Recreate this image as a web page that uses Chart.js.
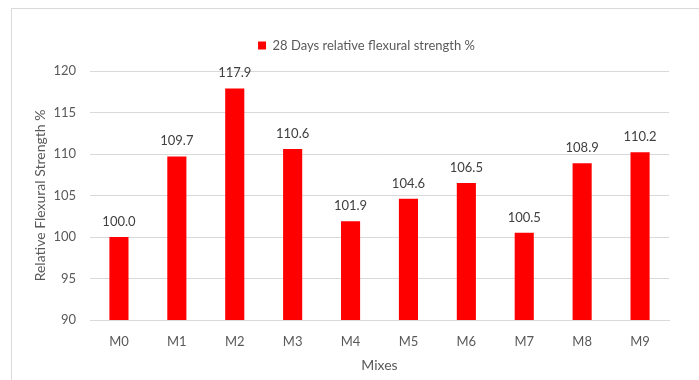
<!DOCTYPE html>
<html>
<head>
<meta charset="utf-8">
<script src="https://cdn.jsdelivr.net/npm/chart.js@4.4.1/dist/chart.umd.min.js"></script>
<style>
  html, body { margin: 0; padding: 0; background: #fff; }
  #wrap { position: relative; width: 699px; height: 380px; overflow: hidden; }
  #frame { position: absolute; left: 11px; top: 8px; width: 720px; height: 400px;
           border: 1px solid #d9d9d9; box-sizing: border-box; }
  canvas { position: absolute; left: 0; top: 0; }
</style>
</head>
<body>
<div id="wrap">
  <div id="frame"></div>
  <canvas id="c" width="699" height="380"></canvas>
</div>
<script>
const mixes = ['M0', 'M1', 'M2', 'M3', 'M4', 'M5', 'M6', 'M7', 'M8', 'M9'];
const strength28 = [100.0, 109.7, 117.9, 110.6, 101.9, 104.6, 106.5, 100.5, 108.9, 110.2];
const yTicks = [90, 95, 100, 105, 110, 115, 120];

const FONT = 'Lato, "Open Sans", sans-serif';

// Writes each bar's value just above it
const valueLabels = {
  id: 'valueLabels',
  afterDatasetsDraw(chart) {
    const ctx = chart.ctx;
    const meta = chart.getDatasetMeta(0);
    ctx.save();
    ctx.font = '13px ' + FONT;
    ctx.fillStyle = '#404040';
    ctx.textAlign = 'center';
    ctx.textBaseline = 'bottom';
    meta.data.forEach((bar, i) => {
      ctx.fillText(strength28[i].toFixed(1), bar.x, bar.y - 9);
    });
    ctx.restore();
  }
};

// Nudges the legend so it sits centred over the plot and a little higher
const legendShift = {
  id: 'legendShift',
  afterLayout(chart) {
    const lg = chart.legend;
    if (lg) {
      lg.left += 18; lg.right += 18;
      lg.top -= 9; lg.bottom -= 9;
    }
  }
};

new Chart(document.getElementById('c'), {
  type: 'bar',
  data: {
    labels: mixes,
    datasets: [{
      label: '28 Days relative flexural strength %',
      data: strength28,
      backgroundColor: '#ff0000',
      borderWidth: 0,
      categoryPercentage: 1.0,
      barPercentage: 0.33
    }]
  },
  options: {
    responsive: false,
    animation: false,
    layout: { padding: { left: 28, right: 30, top: 30, bottom: 0 } },
    plugins: {
      legend: {
        position: 'top',
        labels: {
          boxWidth: 8, boxHeight: 8, padding: 18,
          color: '#595959',
          font: { family: FONT, size: 13 }
        }
      },
      tooltip: { enabled: false }
    },
    scales: {
      x: {
        afterFit(scale) { scale.height = 60; },
        grid: { display: false },
        border: { color: '#d9d9d9' },
        ticks: { color: '#595959', font: { family: FONT, size: 13 }, padding: 6 },
        title: { display: true, text: 'Mixes', color: '#595959',
                 font: { family: FONT, size: 14 }, padding: { top: 4, bottom: 6 } }
      },
      y: {
        min: 90, max: 120,
        afterBuildTicks(scale) { scale.ticks = yTicks.map(v => ({ value: v })); },
        afterFit(scale) { scale.width = 62; },
        grid: { color: '#d9d9d9', drawTicks: false },
        border: { display: false },
        ticks: { color: '#595959', font: { family: FONT, size: 13 }, padding: 14 },
        title: { display: true, text: 'Relative Flexural Strength %', color: '#595959',
                 font: { family: FONT, size: 14 }, padding: { bottom: 0 } }
      }
    }
  },
  plugins: [valueLabels, legendShift]
});
</script>
</body>
</html>
